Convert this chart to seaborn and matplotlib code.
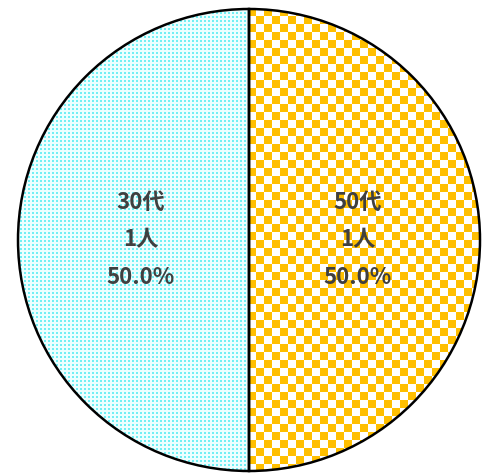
import numpy as np
import matplotlib
matplotlib.use("Agg")
import matplotlib.pyplot as plt
import seaborn as sns

categories = ["30代", "50代"]
counts = [1, 1]
unit = "人"

sns.set_style("white")
plt.rcParams['font.family'] = ['Noto Sans CJK JP', 'DejaVu Sans']

W, H = 488, 474
fig = plt.figure(figsize=(W / 100, H / 100), dpi=100)
ax = fig.add_axes([0, 0, 1, 1])

label_iter = iter(range(len(counts)))

def fmt(pct):
    i = next(label_iter)
    return f"{categories[i]}\n{counts[i]}{unit}\n{pct:.1f}%"

wedges, texts, autotexts = ax.pie(
    counts, startangle=90, counterclock=True, center=(249, H - 240), radius=231,
    colors=["none", "none"], autopct=fmt, pctdistance=0.47,
    wedgeprops=dict(edgecolor="black", linewidth=1.8),
    textprops=dict(fontsize=16, fontweight="bold", color="#404040", linespacing=1.8),
    frame=True)
ax.set_xlim(0, W)
ax.set_ylim(0, H)
ax.set_aspect('equal')
ax.axis('off')

yy, xx = np.mgrid[0:H, 0:W]
# dotted cyan pattern
dots = np.ones((H, W, 3))
dots[:] = np.array([0.93, 1.0, 1.0])
mask = ((xx % 4) < 2) & ((yy % 4) < 2)
dots[mask] = np.array([0.45, 0.94, 0.96])
# checkerboard gold pattern
chk = np.ones((H, W, 3))
cmask = ((xx // 8) + (yy // 8)) % 2 == 0
chk[cmask] = np.array([1.0, 0.75, 0.0])

for w, img in zip(wedges, [dots, chk]):
    im = ax.imshow(img, extent=(0, W, 0, H), origin='upper', interpolation='nearest', zorder=0.5)
    im.set_clip_path(w)
    w.set_zorder(1)
for t in autotexts:
    t.set_zorder(3)

fig.savefig("out.png", dpi=100)
